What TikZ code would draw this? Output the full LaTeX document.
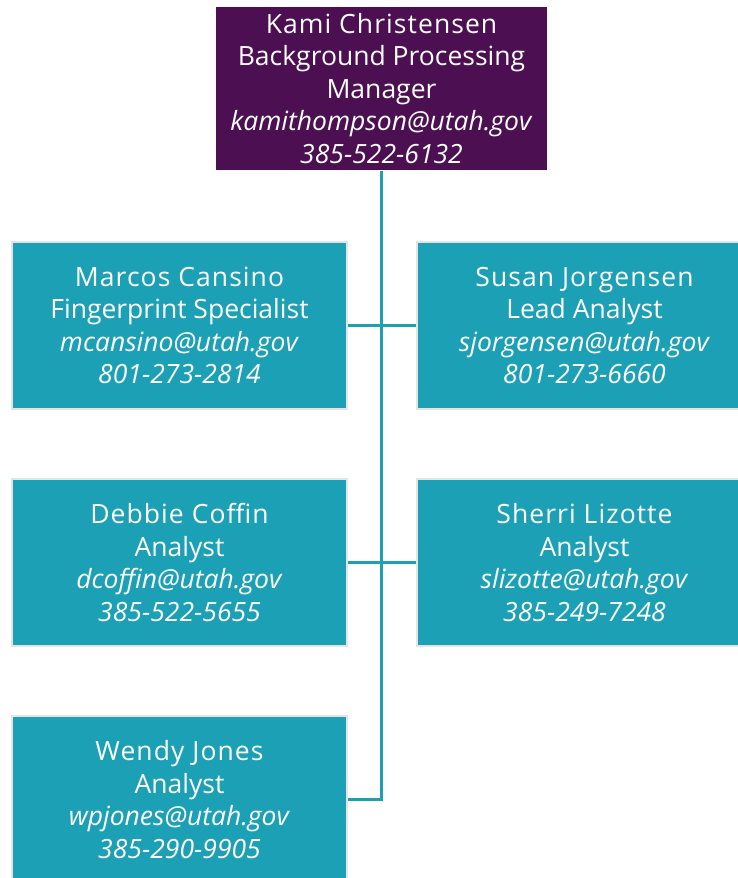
\documentclass[tikz,border=0pt]{standalone}
\usepackage{fontspec}
\setmainfont{Open Sans}
\newfontfamily\namefont{Open Sans}[LetterSpace=4]
\definecolor{mgrpurple}{HTML}{4B0F52}
\definecolor{staffteal}{HTML}{1CA0B6}
\definecolor{boxedge}{HTML}{E4E4E4}
\tikzset{
	person/.style={draw=boxedge, line width=2pt, fill=staffteal, text=white, align=center,
		minimum width=335pt, minimum height=167pt, inner sep=0pt, font=\fontsize{26.5}{32.5}\selectfont},
	boss/.style={person, draw=none, fill=mgrpurple, minimum width=331pt, minimum height=163pt},
	link/.style={draw=staffteal, line width=3pt}
}
\newcommand{\card}[4]{{\namefont #1}\\#2\\\textit{#3}\\\textit{#4}}
\begin{document}
\begin{tikzpicture}[x=1pt, y=-1pt]
	\useasboundingbox (0,0) rectangle (738,878);
	\node[boss]   (kc) at (381.5,88.5)  {{\namefont Kami Christensen}\\Background Processing\\Manager\\\textit{kamithompson@utah.gov}\\\textit{385-522-6132}};
	\node[person] (mc) at (179.5,325.5) {\card{Marcos Cansino}{Fingerprint Specialist}{mcansino@utah.gov}{801-273-2814}};
	\node[person] (sj) at (584.5,325.5) {\card{Susan Jorgensen}{Lead Analyst}{sjorgensen@utah.gov}{801-273-6660}};
	\node[person] (dc) at (179.5,562.5) {\card{Debbie Coffin}{Analyst}{dcoffin@utah.gov}{385-522-5655}};
	\node[person] (sl) at (584.5,562.5) {\card{Sherri Lizotte}{Analyst}{slizotte@utah.gov}{385-249-7248}};
	\node[person] (wj) at (179.5,799.5) {\card{Wendy Jones}{Analyst}{wpjones@utah.gov}{385-290-9905}};
	% connectors
	\coordinate (spine) at (381.5,799.5);
	\draw[link] (kc.south) -- (spine) -- (wj.east);
	\draw[link] (mc.east) -- (sj.west);
	\draw[link] (dc.east) -- (sl.west);
\end{tikzpicture}
\end{document}
